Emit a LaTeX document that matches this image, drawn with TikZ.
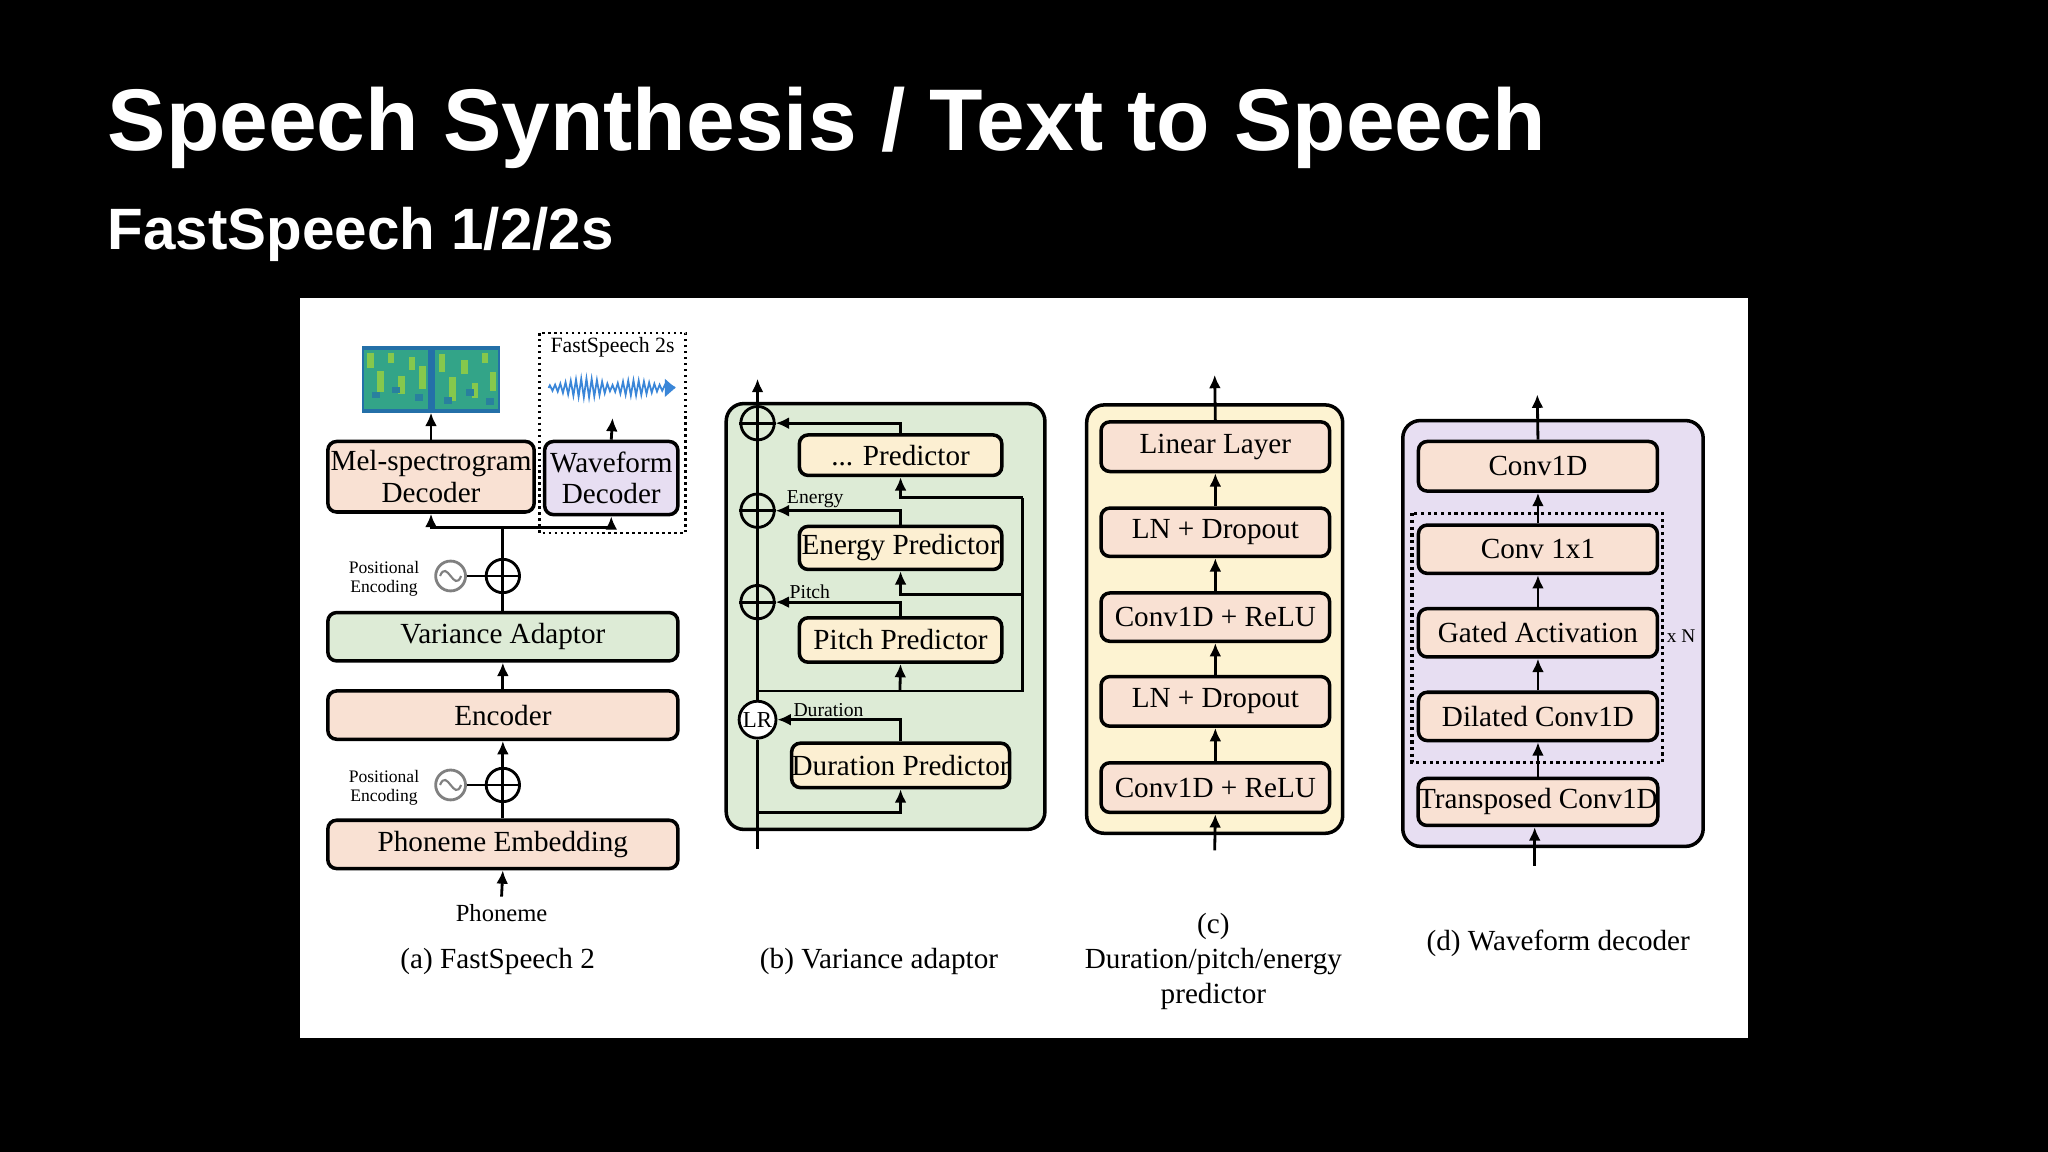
\documentclass[tikz,border=0pt]{standalone}
\usepackage{fontspec}
\setmainfont{Liberation Serif}
\newfontfamily\hd{Liberation Sans}
\usetikzlibrary{arrows.meta}
\def\u{0.013061cm}
\definecolor{peach}{HTML}{F9E1D3}
\definecolor{lav}{HTML}{E7DEF2}
\definecolor{vgreen}{HTML}{DDEBD6}
\definecolor{pyel}{HTML}{FCEFD2}
\definecolor{cyel}{HTML}{FDF3D2}
\definecolor{spb}{HTML}{2470A8}
\definecolor{spg}{HTML}{33A488}
\definecolor{spl}{HTML}{86C84C}
\definecolor{wblue}{HTML}{3A86D8}
\tikzset{
 bx/.style={draw=black,line width=1pt,rounded corners=2.5pt,inner sep=0pt,font=\fontsize{8.3}{9}\selectfont,align=center},
 grp/.style={draw=black,line width=1pt,rounded corners=5pt},
 ar/.style={line width=0.8pt,-{Latex[length=3.8pt,width=3.4pt]}},
 ln/.style={line width=0.8pt},
 opl/.style={circle,draw=black,line width=0.8pt,minimum size=9.5pt,inner sep=0pt},
 pec/.style={circle,draw=gray,line width=0.8pt,minimum size=8.5pt,inner sep=0pt},
 small/.style={font=\fontsize{5}{5.5}\selectfont,align=center,inner sep=0pt},
 lab/.style={font=\fontsize{5.6}{6}\selectfont,inner sep=0pt,anchor=south west},
 captxt/.style={font=\fontsize{8.3}{10}\selectfont,align=center,inner sep=0pt}
}
\newcommand\mybox[7]{\node[bx,fill=#6,minimum width={(#3-#2)*\u},minimum height={(#5-#4)*\u}] (#1) at ({(#2+#3)/2},{(#4+#5)/2}) {#7};}
\newcommand\opl[3]{\node[opl] (#1) at (#2,#3) {};\draw[ln] (#1.north)--(#1.south) (#1.west)--(#1.east);}
\begin{document}
\begin{tikzpicture}[x=\u,y=-\u]
\fill[black] (0,0) rectangle (1568,882);
\useasboundingbox (0,0) rectangle (1568,882);
\node[anchor=base west,text=white,inner sep=0pt,font=\hd\bfseries\fontsize{24.9}{27}\selectfont] (title) at (82,115) {Speech Synthesis / Text to Speech};
\node[anchor=base west,text=white,inner sep=0pt,font=\hd\bfseries\fontsize{16.6}{18}\selectfont] (sub) at (82,191) {FastSpeech 1/2/2s};
\fill[white] (230,228) rectangle (1338,795);
% ---------- (a)
\draw[line width=0.7pt,densely dotted] (413,255) rectangle (525,408);
\node[font=\fontsize{6.2}{7}\selectfont,anchor=north,inner sep=0pt] (fs2s) at (469,258) {FastSpeech 2s};
% spectrogram
\fill[spb] (277,265) rectangle (383,316);
\fill[spg] (279,268) rectangle (328,313);
\fill[spg] (333,268) rectangle (381,313);
\foreach \x/\y/\h in {281/270/12,289/284/16,297/270/8,305/288/14,313/273/10,321/280/18,336/271/14,344/289/18,353/276/10,361/293/12,369/270/8,375/285/14}
  \fill[spl] (\x,\y) rectangle (\x+5,\y+\h);
\foreach \x/\y in {285/300,300/296,318/302,340/304,357/298,372/305}
  \fill[spb!70!spg] (\x,\y) rectangle (\x+6,\y+5);
\coordinate (spec) at (330,316);
% waveform
\draw[wblue,line width=0.5pt] (420,297) \foreach \i in {0,...,46}{ -- ({421+2*\i},{297+(mod(\i,2)*2-1)*(2+6*abs(sin(\i*7.6))*abs(sin(\i*3.9+10)))}) } -- (517,297);
\fill[wblue] (509,290) -- (517,297) -- (509,304) -- cycle;
\coordinate (wave) at (469,320);
\mybox{mel}{251}{409}{338}{392}{peach}{Mel-spectrogram\\Decoder}
\mybox{wav}{417}{519}{338}{394}{lav}{Waveform\\Decoder}
\mybox{va}{251}{519}{469}{506}{vgreen}{Variance Adaptor}
\mybox{enc}{251}{519}{529}{566}{peach}{Encoder}
\mybox{pe}{251}{519}{628}{665}{peach}{Phoneme Embedding}
\draw[ar] (mel.north) -- (spec);
\draw[ar] (wav.north) -- (wave);
\opl{o1}{385}{441}
\opl{o2}{385}{601}
\node[pec] (pe1) at (345,441) {};
\node[pec] (pe2) at (345,601) {};
\foreach \p in {pe1,pe2}{\draw[gray,line width=0.6pt] ([xshift=-3pt]\p.center) .. controls ([xshift=-1pt,yshift=5pt]\p.center) and ([xshift=1pt,yshift=-5pt]\p.center) .. ([xshift=3pt]\p.center);}
\draw[ln] (pe1) -- (o1); \draw[ln] (pe2) -- (o2);
\node[small] (pt1) at (294,443) {Positional\\Encoding};
\node[small] (pt2) at (294,603) {Positional\\Encoding};
\draw[ln] (va.north) -- (o1.south);
\coordinate (j) at (385,404);
\draw[ln] (o1.north) -- (j);
\draw[ar] (j) -| (mel.south);
\draw[ar] (j) -| (wav.south);
\draw[ar] (enc.north) -- (va.south);
\draw[ln] (pe.north) -- (o2.south);
\draw[ar] (o2.north) -- (enc.south);
\node[captxt,font=\fontsize{7}{8}\selectfont] (phon) at (384,699) {Phoneme};
\draw[ar] ([yshift=2pt]phon.north) -- (pe.south);
\node[captxt] (capa) at (381,736) {(a) FastSpeech 2};
% ---------- (b)
\draw[grp,fill=vgreen] (556,309) rectangle (800,635);
\mybox{dp}{612}{767}{333}{364}{pyel}{... Predictor}
\mybox{ep}{612}{767}{403}{436}{pyel}{Energy Predictor}
\mybox{pp}{612}{767}{473}{507}{pyel}{Pitch Predictor}
\mybox{du}{612}{767}{569}{603}{pyel}{Duration Predictor}
\coordinate (bbot) at (580,650);
\coordinate (btop) at (580,290);
\opl{b1}{580}{324}
\opl{b2}{580}{391}
\opl{b3}{580}{461}
\node[circle,draw=black,fill=white,line width=0.8pt,minimum size=10.5pt,inner sep=0pt,font=\fontsize{6.5}{7}\selectfont] (lr) at (580,551) {LR};
\draw[ln] (bbot) -- (lr.south);
\draw[ln] (lr.north) -- (b3.south);
\draw[ln] (b3.north) -- (b2.south);
\draw[ln] (b2.north) -- (b1.south);
\draw[ar] (b1.north) -- (btop);
\coordinate (r1) at (580,622);
\draw[ar] (r1) -| (du.south);
\coordinate (r2) at (580,529);
\coordinate (r3) at (783,529);
\coordinate (r4) at (783,381);
\draw[ln] (r2) -- (r3) -- (r4);
\draw[ar] (r4) -| (dp.south);
\coordinate (r5) at (783,455);
\draw[ar] (r5) -| (ep.south);
\draw[ar] (689,529) -- (pp.south);
\draw[ar] (du.north) |- (lr.east);
\draw[ar] (pp.north) |- (b3.east);
\draw[ar] (ep.north) |- (b2.east);
\draw[ar] (dp.north) |- (b1.east);
\node[lab] (ldu) at (607,549) {Duration};
\node[lab] (lpi) at (604,459) {Pitch};
\node[lab] (len) at (602,389) {Energy};
\node[captxt] (capb) at (673,736) {(b) Variance adaptor};
% ---------- (c)
\draw[grp,fill=cyel] (832,310) rectangle (1028,638);
\mybox{c1}{843}{1018}{323}{361}{peach}{Linear Layer}
\mybox{c2}{843}{1018}{389}{426}{peach}{LN + Dropout}
\mybox{c3}{843}{1018}{454}{491}{peach}{Conv1D + ReLU}
\mybox{c4}{843}{1018}{518}{556}{peach}{LN + Dropout}
\mybox{c5}{843}{1018}{584}{622}{peach}{Conv1D + ReLU}
\coordinate (cin) at (930,651);
\coordinate (cout) at (930,287);
\draw[ar] (cin) -- (c5.south);
\draw[ar] (c5.north) -- (c4.south);
\draw[ar] (c4.north) -- (c3.south);
\draw[ar] (c3.north) -- (c2.south);
\draw[ar] (c2.north) -- (c1.south);
\draw[ar] (c1.north) -- (cout);
\node[captxt] (capc) at (929,736) {(c)\\Duration/pitch/energy\\predictor};
% ---------- (d)
\draw[grp,fill=lav] (1074,322) rectangle (1304,648);
\draw[line width=0.9pt,densely dotted] (1081,393) rectangle (1273,584);
\mybox{d1}{1086}{1269}{338}{376}{peach}{Conv1D}
\mybox{d2}{1086}{1269}{402}{439}{peach}{Conv 1x1}
\mybox{d3}{1086}{1269}{466}{503}{peach}{Gated Activation}
\mybox{d4}{1086}{1269}{530}{567}{peach}{Dilated Conv1D}
\mybox{d5}{1086}{1269}{596}{632}{peach}{Transposed Conv1D}
\node[font=\fontsize{5.5}{6}\selectfont,inner sep=0pt] (xn) at (1287,487) {x N};
\coordinate (din) at (1175,663);
\coordinate (dout) at (1177,302);
\draw[ar] (din) -- (din|-d5.south);
\draw[ar] (d5.north) -- (d4.south);
\draw[ar] (d4.north) -- (d3.south);
\draw[ar] (d3.north) -- (d2.south);
\draw[ar] (d2.north) -- (d1.south);
\draw[ar] (d1.north) -- (dout);
\node[captxt] (capd) at (1193,722) {(d) Waveform decoder};
\end{tikzpicture}
\end{document}
